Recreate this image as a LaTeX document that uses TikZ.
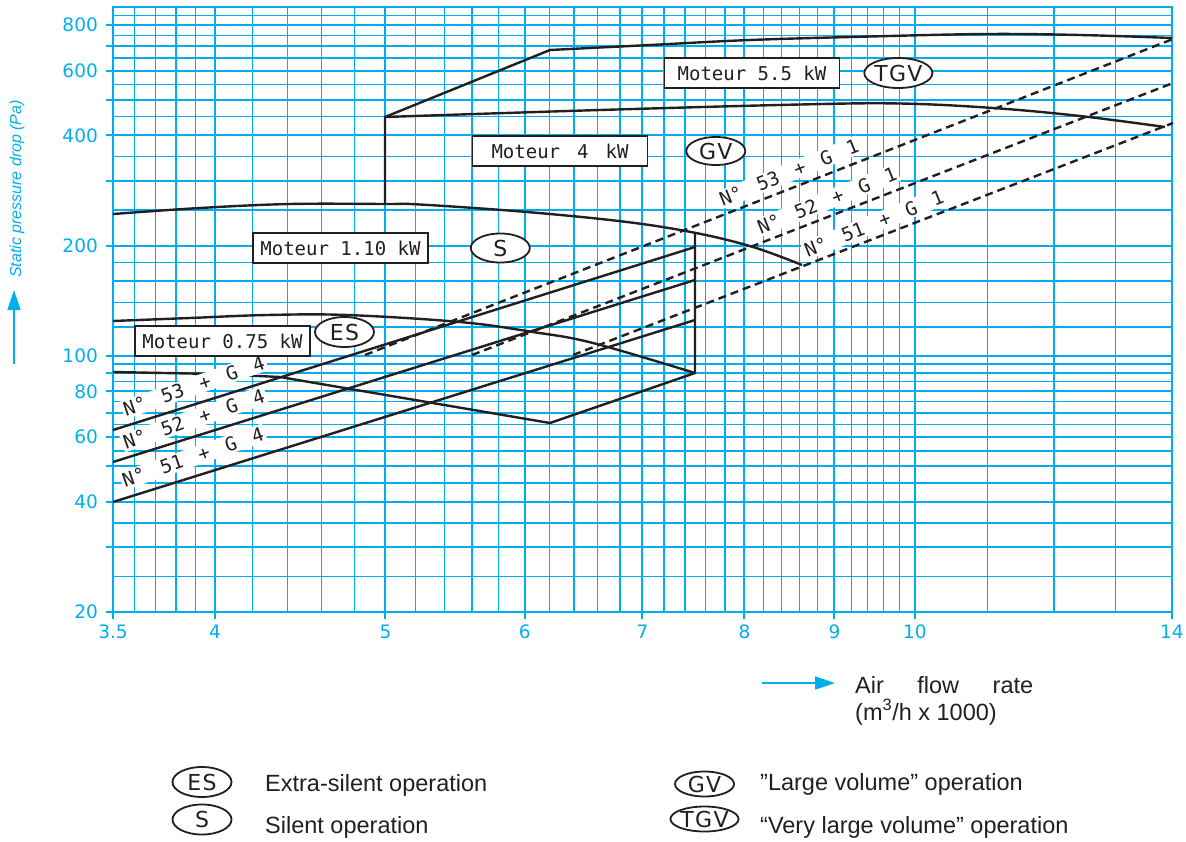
\documentclass[tikz,border=0pt]{standalone}
\usepackage{fontspec}
\setmainfont{Liberation Sans}
\newfontfamily\cadfont{DejaVu Sans Mono}
\newfontfamily\ovalfont[LetterSpace=6]{DejaVu Sans}
\newfontfamily\tickfont{DejaVu Sans}
\usetikzlibrary{arrows.meta,positioning,shapes.geometric}
\definecolor{chartblue}{RGB}{0,174,239}
\definecolor{curveblack}{RGB}{35,31,32}

\begin{document}
\begin{tikzpicture}
  [
    x=1pt, y=-1pt,
    declare function={fx(\q)=113+763.9*ln(\q/3.5); fy(\q)=612-159.13*ln(\q/20);},
    Grid/.style={chartblue, line width=1.4pt},
    Major/.style={chartblue, line width=2pt},
    Curve/.style={curveblack, line width=2.4pt, line join=round},
    Filter/.style={curveblack, line width=2.4pt, dash pattern=on 8pt off 5pt},
    Motor/.style={draw=curveblack, fill=white, line width=1.8pt, minimum width=175pt, minimum height=30pt, inner sep=0pt, text=curveblack, font={\cadfont\fontsize{19}{22}\selectfont}},
    Oval/.style={ellipse, draw=curveblack, fill=white, line width=1.8pt, minimum width=59pt, minimum height=29pt, inner sep=0pt, text=curveblack, font={\ovalfont\fontsize{22}{24}\selectfont}},
    Combo/.style={fill=white, inner sep=2pt, text=curveblack, font={\cadfont\fontsize{19}{22}\selectfont\spaceskip=17pt\relax}},
    Tick/.style={chartblue, inner sep=0pt, font={\tickfont\fontsize{18.5}{20}\selectfont}},
    Legend/.style={anchor=base west, inner sep=0pt, text=curveblack, font={\fontsize{23.5}{26}\selectfont}},
    Axisarrow/.style={chartblue, line width=1.5pt, -{Triangle[length=20pt, width=13pt]}}
  ]
  \useasboundingbox (0,0) rectangle (1186,841);

  % Grid
  \foreach \v in {3.6,3.7,3.8,3.9,11,12,13}
    \draw[Grid] ({fx(\v)},7) -- ({fx(\v)},612);
  \foreach \i [evaluate=\i as \v using \i/5] in {21,...,49}
    \draw[Grid] ({fx(\v)},7) -- ({fx(\v)},612);
  \foreach \v in {4,5,6,7,8,9,10}
    \draw[Major] ({fx(\v)},7) -- ({fx(\v)},619);
  \foreach \v in {25,35,45,55,65,75,85,95,120,140,160,180,250,350,450,550,650,750,850}
    \draw[Grid] (113,{fy(\v)}) -- (1172,{fy(\v)});
  \foreach \v in {30,40,50,60,70,80,90,100,200,300,400,500,600,700,800}
    \draw[Major] (106,{fy(\v)}) -- (1172,{fy(\v)});
  \draw[Major, line width=2.4pt] (113,7) rectangle (1172,612);
  \draw[Major] (106,612) -- (113,612);
  \foreach \v in {3.5,14}
    \draw[Major] ({fx(\v)},612) -- ({fx(\v)},619);

  % Tick labels
  \foreach \v in {3.5,4,5,6,7,8,9,10,14}
    \node[Tick] (x\v) at ({fx(\v)},631.5) {\v};
  \foreach \v in {20,40,60,80,100,200,400,600,800}
    \node[Tick, anchor=east] (y\v) at (98,{fy(\v)}) {\v};

  % Fan curves
  \draw[Curve] (385,204) -- (385,117) -- (550,50) -- plot[smooth, tension=0.6] coordinates {(550,50) (650,45) (750,40) (870,36.5) (987,34) (1080,35) (1172,38)};
  \draw[Curve] plot[smooth, tension=0.6] coordinates {(385,117) (600,110) (800,104.5) (900,103.5) (993,108) (1080,116) (1165,127)};
  \draw[Curve] plot[smooth, tension=0.6] coordinates {(113,214) (200,208) (290,204) (385,204) (420,204.5) (527,212) (627,222) (696,233) (753,247) (802,265)};
  \draw[Curve] plot[smooth, tension=0.6] coordinates {(113,321) (190,318) (267,315) (347,315) (460,322) (533,332) (593,343) (695,373)};
  \draw[Curve] (113,372) -- (216,374) -- (280,377) -- (550,423) -- (695,373) -- (695,232);

  % Filter lines
  \draw[Curve] (113,430) -- (695,247);
  \draw[Curve] (113,462) -- (695,280);
  \draw[Curve] (113,502) -- (695,320);
  \draw[Filter] (365,355) -- (1173,39);
  \draw[Filter] (472,355) -- (1173,83);
  \draw[Filter] (573,355) -- (1173,123);

  % Labels
  \node[Combo, rotate=19] (g453) at (194,386) {N° 53 + G 4};
  \node[Combo, rotate=19] (g452) at (194,419) {N° 52 + G 4};
  \node[Combo, rotate=19] (g451) at (193,457) {N° 51 + G 4};
  \node[Combo, rotate=22] (g153) at (789,172.5) {N° 53 + G 1};
  \node[Combo, rotate=22] (g152) at (827,200.5) {N° 52 + G 1};
  \node[Combo, rotate=22] (g151) at (874,223.5) {N° 51 + G 1};

  \node[Motor] (m55) at (752,73) {Moteur 5.5 kW};
  \node[Oval, right=23pt of m55, minimum height=30pt] (tgv) {TGV};
  \node[Motor] (m40) at (560,151) {Moteur\hspace{17pt}4\hspace{17pt}kW};
  \node[Oval, right=37pt of m40, minimum height=28pt] (gv) {GV};
  \node[Motor] (m11) at (340.5,248) {Moteur 1.10 kW};
  \node[Oval, right=41pt of m11] (s) {S};
  \node[Motor] (m075) at (222.5,341) {Moteur 0.75 kW};
  \node[Oval, minimum height=30pt] (es) at (344.5,332) {ES};

  % Axis titles
  \coordinate (ytail) at (14,364);
  \coordinate (yhead) at (14,290);
  \draw[Axisarrow] (ytail) -- (yhead);
  \node[rotate=90, chartblue, font={\itshape\fontsize{16}{18}\selectfont}] (ytitle) at (17,189) {Static pressure drop (Pa)};
  \coordinate (xtail) at (762,683);
  \coordinate (xhead) at (835,683);
  \draw[Axisarrow] (xtail) -- (xhead);
  \node[Legend] (xtitle) at (855,693) {\makebox[178pt][s]{Air flow rate}};
  \node[Legend] (xunit) at (855,720) {(m\textsuperscript{3}/h x 1000)};

  % Legend
  \node[Oval, minimum height=30pt] (les) at (202,782) {ES};
  \node[Oval, minimum height=30pt] (ls) at (202,819.5) {S};
  \node[Oval, minimum height=25pt] (lgv) at (704.5,784) {GV};
  \node[Oval, minimum height=25pt] (ltgv) at (704.5,819) {TGV};
  \node[Legend] (tes) at (265,791) {Extra-silent operation};
  \node[Legend] (ts) at (265,833) {Silent operation};
  \node[Legend] (tgvtext) at (760,790) {”Large volume” operation};
  \node[Legend] (ttgv) at (760,833) {“Very large volume” operation};
\end{tikzpicture}
\end{document}
